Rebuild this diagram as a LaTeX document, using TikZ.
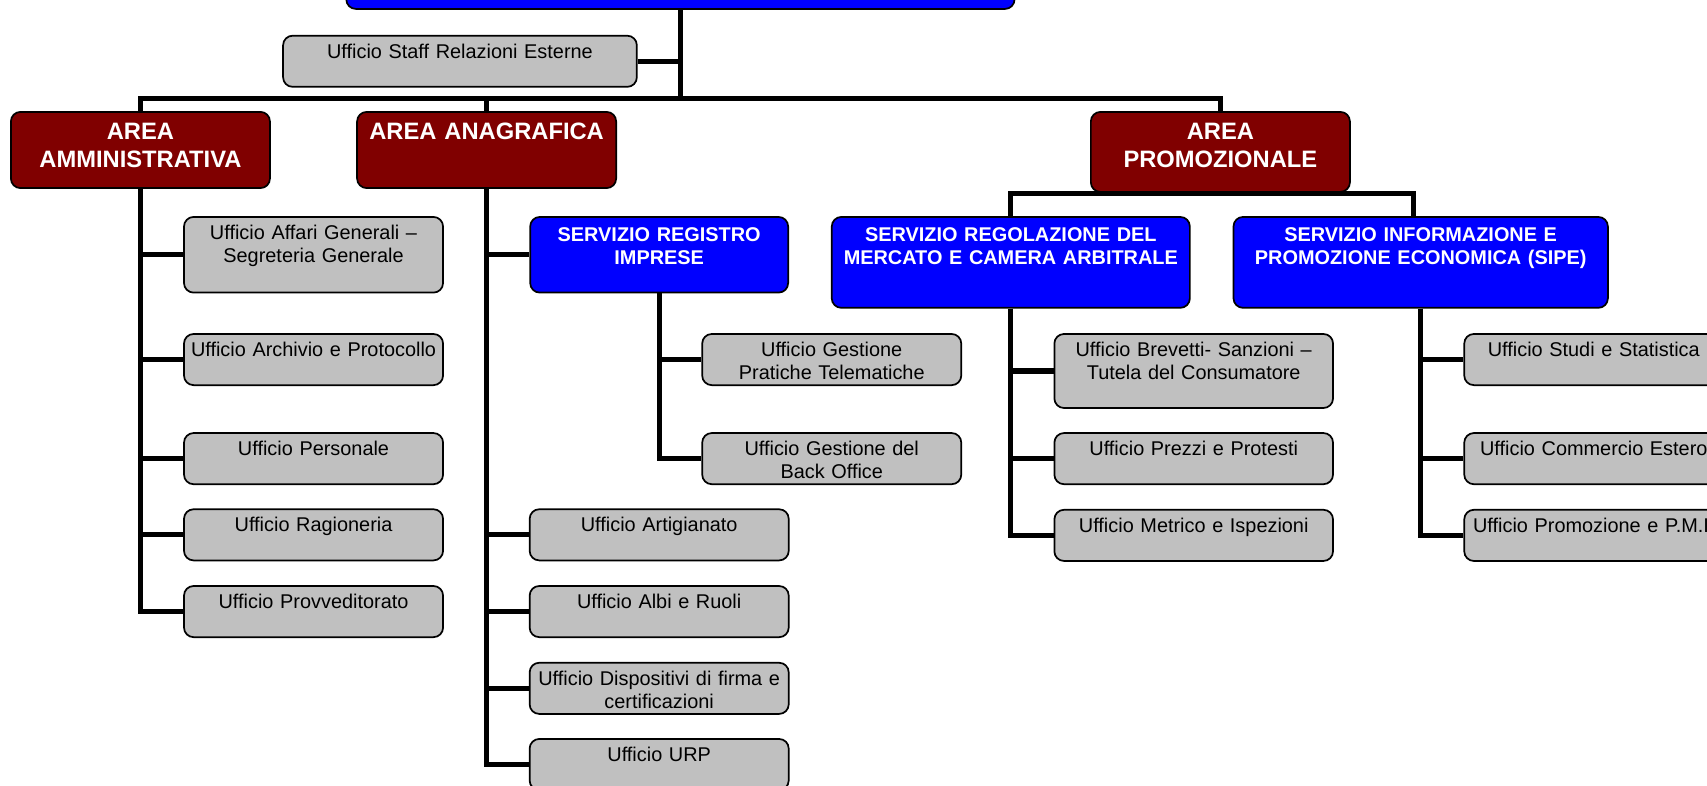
\documentclass[tikz,border=0pt]{standalone}
\usepackage{fontspec}
\setmainfont{Liberation Sans}
\usepackage{tikz}
\usetikzlibrary{positioning,calc}
\definecolor{areared}{HTML}{800000}
\definecolor{servblue}{HTML}{0000FF}
\definecolor{uffgrey}{HTML}{C0C0C0}

\begin{document}
\begin{tikzpicture}[x=0.02cm,y=-0.02cm,
  box/.style={draw,line width=0.9pt,rounded corners=5pt,anchor=north,align=center,inner sep=0pt},
  uff/.style={box,fill=uffgrey,text width=4.76cm,text height=0.41cm,text depth=0.53cm,
              font=\fontsize{10.4}{12.2}\selectfont},
  serv/.style={box,fill=servblue,text=white,text width=4.74cm,text height=0.45cm,text depth=0.94cm,
               font=\fontsize{10.4}{12.2}\selectfont\bfseries},
  area/.style={box,fill=areared,text=white,text width=4.76cm,text height=0.50cm,text depth=0.90cm,
               font=\fontsize{12.4}{14.8}\selectfont\bfseries},
  conn/.style={line width=2.7pt}]
\useasboundingbox (0,0) rectangle (1568,722);
\clip (0,0) rectangle (1568,722);
% vertice
\node[box,fill=servblue,anchor=south,minimum width=12.28cm,minimum height=1.5cm] (dir) at (625,9) {};
\node[uff,text width=6.5cm] (staff) at (422.5,32) {Ufficio Staff Relazioni Esterne};
% aree
\node[area] (amm) at (129,102) {AREA\\AMMINISTRATIVA};
\node[area] (ana) at (447,102) {AREA ANAGRAFICA};
\node[area,text depth=0.97cm] (prom) at (1121,102) {AREA\\PROMOZIONALE};
% area amministrativa
\node[uff,text depth=0.98cm] (affari) at (288,198.5) {Ufficio Affari Generali –\\Segreteria Generale};
\node[uff] (archivio) at (288,306) {Ufficio Archivio e Protocollo};
\node[uff] (personale) at (288,397) {Ufficio Personale};
\node[uff] (ragioneria) at (288,467) {Ufficio Ragioneria};
\node[uff] (provv) at (288,537.5) {Ufficio Provveditorato};
% area anagrafica
\node[serv] (registro) at (605.5,198.5) {SERVIZIO REGISTRO\\IMPRESE};
\node[uff] (telematiche) at (764,306) {Ufficio Gestione\\Pratiche Telematiche};
\node[uff] (backoffice) at (764,397) {Ufficio Gestione del\\Back Office};
\node[uff] (artigianato) at (605.5,467) {Ufficio Artigianato};
\node[uff] (albi) at (605.5,537.5) {Ufficio Albi e Ruoli};
\node[uff] (firma) at (605.5,608) {Ufficio Dispositivi di firma e\\certificazioni};
\node[uff] (urp) at (605.5,678) {Ufficio URP};
% area promozionale
\node[serv,text width=6.58cm,text depth=1.22cm] (mercato) at (928.5,198.5)
  {SERVIZIO REGOLAZIONE DEL\\MERCATO E CAMERA ARBITRALE};
\node[serv,text width=6.88cm,text depth=1.22cm] (sipe) at (1305,198.5)
  {SERVIZIO INFORMAZIONE E\\PROMOZIONE ECONOMICA (SIPE)};
\node[uff,text width=5.12cm,text depth=0.95cm] (brevetti) at (1096.5,306)
  {Ufficio Brevetti- Sanzioni –\\Tutela del Consumatore};
\node[uff,text width=5.12cm] (prezzi) at (1096.5,397) {Ufficio Prezzi e Protesti};
\node[uff,text width=5.12cm] (metrico) at (1096.5,467.5) {Ufficio Metrico e Ispezioni};
\node[uff] (studi) at (1464,306) {Ufficio Studi e Statistica};
\node[uff] (estero) at (1464,397) {Ufficio Commercio Estero};
\node[uff] (pmi) at (1464,467.5) {Ufficio Promozione e P.M.I.};
% collegamenti
\coordinate (bus) at (625,90.5);
\coordinate (pj) at (1121,178);
\draw[conn] (dir.south) -- (bus);
\draw[conn] (staff.east) -- (staff.east -| bus);
\draw[conn] (amm.north) |- (bus) -| (prom.north);
\draw[conn] (ana.north) -- (ana.north |- bus);
\foreach \u in {affari,archivio,personale,ragioneria,provv}{\draw[conn] (amm.south) |- (\u.west);}
\foreach \u in {registro,artigianato,albi,firma,urp}{\draw[conn] (ana.south) |- (\u.west);}
\foreach \u in {telematiche,backoffice}{\draw[conn] (registro.south) |- (\u.west);}
\draw[conn] (prom.south) -- (pj);
\draw[conn] (mercato.north) |- (pj) -| ([xshift=-7*0.02cm]sipe.north);
\foreach \u in {brevetti,prezzi,metrico}{\draw[conn] (mercato.south) |- (\u.west);}
\foreach \u in {studi,estero,pmi}{\draw[conn] (sipe.south) |- (\u.west);}
\end{tikzpicture}
\end{document}
